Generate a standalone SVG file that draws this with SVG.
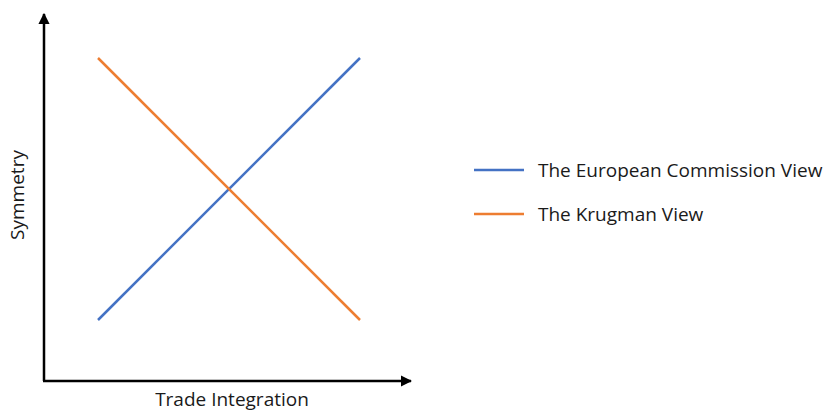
<svg xmlns="http://www.w3.org/2000/svg" width="828" height="413" viewBox="0 0 828 413">
<style>
.axis{stroke:#000;stroke-width:2.5;fill:none}
.lbl{font-family:"Open Sans","Liberation Sans",sans-serif;font-size:19px;fill:#1a1a1a}
.blue{stroke:#4472C4;stroke-width:2.5}
.orange{stroke:#ED7D31;stroke-width:2.5}
</style>
<defs>
<marker id="arr" viewBox="0 0 10 10" refX="9" refY="5" markerWidth="4.5" markerHeight="4.5" orient="auto" markerUnits="strokeWidth">
<path d="M0,0 L10,5 L0,10 z" fill="#000"/>
</marker>
</defs>
<g id="axes">
<line class="axis" x1="44" y1="381" x2="44" y2="14" marker-end="url(#arr)"/>
<line class="axis" x1="43" y1="381" x2="411" y2="381" marker-end="url(#arr)"/>
<text id="xlabel" class="lbl" x="232" y="406" text-anchor="middle">Trade Integration</text>
<text id="ylabel" class="lbl" x="0" y="0" text-anchor="middle" transform="translate(24,195) rotate(-90)">Symmetry</text>
</g>
<g id="series">
<line id="ec" class="blue" x1="98" y1="320" x2="360" y2="58"/>
<line id="krugman" class="orange" x1="98" y1="58" x2="360" y2="320"/>
</g>
<g id="legend">
<line class="blue" x1="474" y1="170" x2="524" y2="170"/>
<text class="lbl" x="538" y="177">The European Commission View</text>
<line class="orange" x1="474" y1="214" x2="524" y2="214"/>
<text class="lbl" x="538" y="221">The Krugman View</text>
</g>
</svg>
